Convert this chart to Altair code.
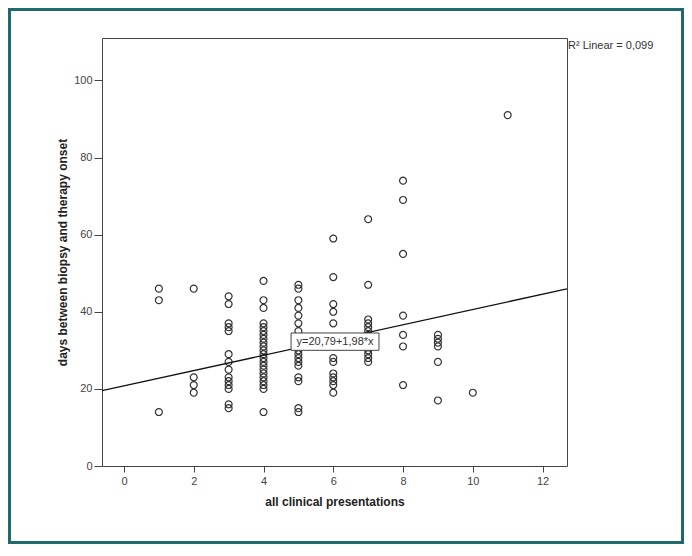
import altair as alt
import pandas as pd

# values
x1 = [46, 43, 14]
x2 = [46, 23, 21, 19]
x3 = [44, 42, 37, 36, 35, 29, 27, 25, 23, 22, 21, 20, 16, 15]
x4 = [48, 43, 41, 37, 36, 35, 34, 33, 32, 31, 30, 29, 28, 27, 26, 25, 24, 23, 22, 21, 20, 14]
x5 = [47, 46, 43, 41, 39, 37, 35, 33, 32, 31, 30, 29, 28, 27, 26, 23, 22, 15, 14]
x6 = [59, 49, 42, 40, 37, 28, 27, 24, 23, 22, 21, 19]
x7 = [64, 47, 38, 37, 36, 35, 34, 33, 32, 31, 30, 29, 28, 27]
x8 = [74, 69, 55, 39, 34, 31, 21]
x9 = [34, 33, 32, 31, 27, 17]
x10 = [19]
x11 = [91]
columns = {1: x1, 2: x2, 3: x3, 4: x4, 5: x5, 6: x6, 7: x7, 8: x8, 9: x9, 10: x10, 11: x11}

intercept = 20.79
slope = 1.98
x_domain = [-0.63, 12.7]
y_domain = [0, 111]
x_ticks = [0, 2, 4, 6, 8, 10, 12]
y_ticks = [0, 20, 40, 60, 80, 100]
eq_label = "y=20,79+1,98*x"
r2_label = "R\u00b2 Linear = 0,099"
x_title = "all clinical presentations"
y_title = "days between biopsy and therapy onset"

rows = [{"x": k, "y": v} for k, vals in columns.items() for v in vals]
df = pd.DataFrame(rows)
line_df = pd.DataFrame({"x": x_domain, "y": [intercept + slope * v for v in x_domain]})

W, H = 465, 428
PL, PT, PR, PB = 94, 30, 117, 78
FONT = "Liberation Sans"

xs = alt.Scale(domain=x_domain, nice=False, zero=False)
ys = alt.Scale(domain=y_domain, nice=False)

xaxis = alt.Axis(values=x_ticks, title=x_title, grid=False, domain=False,
                 tickSize=6, tickColor="#444", labelColor="#444", labelFontSize=11,
                 labelFont=FONT, labelPadding=3, titleFont=FONT, titleFontSize=12,
                 titleFontWeight="bold", titleColor="#222", titlePadding=10)
yaxis = alt.Axis(values=y_ticks, title=y_title, grid=False, domain=False,
                 tickSize=8, tickColor="#444", labelColor="#444", labelFontSize=11,
                 labelFont=FONT, labelPadding=2, titleFont=FONT, titleFontSize=12,
                 titleFontWeight="bold", titleColor="#222", titlePadding=4)

pts = alt.Chart(df).mark_point(shape="circle", filled=False, size=48, stroke="#333",
                               strokeWidth=1.2, opacity=1).encode(
    x=alt.X("x:Q", scale=xs, axis=xaxis),
    y=alt.Y("y:Q", scale=ys, axis=yaxis),
)

fit = alt.Chart(line_df).mark_line(color="#111", strokeWidth=1.4, clip=True).encode(
    x=alt.X("x:Q", scale=xs), y=alt.Y("y:Q", scale=ys))

box_df = pd.DataFrame({"x": [4.79], "x2": [7.31], "y": [30.0], "y2": [34.5], "xc": [6.05], "yc": [32.25], "t": [eq_label]})
box = alt.Chart(box_df).mark_rect(fill="white", stroke="#444", strokeWidth=1).encode(
    x=alt.X("x:Q", scale=xs), x2="x2:Q", y=alt.Y("y:Q", scale=ys), y2="y2:Q")
box_text = alt.Chart(box_df).mark_text(font=FONT, fontSize=11, color="#333").encode(
    x=alt.X("xc:Q", scale=xs), y=alt.Y("yc:Q", scale=ys), text="t:N")

r2 = alt.Chart(pd.DataFrame({"t": [r2_label]})).mark_text(
    font=FONT, fontSize=11, color="#333", align="left", baseline="middle").encode(
    x=alt.value(W + 1), y=alt.value(8), text="t:N")

border = alt.Chart(pd.DataFrame({"a": [0]})).mark_rect(
    fill=None, stroke="#1f6a6a", strokeWidth=3).encode(
    x=alt.value(-PL + 1.5), x2=alt.value(W + PR - 1.5),
    y=alt.value(-PT + 1.5), y2=alt.value(H + PB - 1.5))

chart = alt.layer(border, pts, fit, box, box_text, r2).properties(
    width=W, height=H,
    autosize=alt.AutoSizeParams(type="none"),
    padding={"left": PL, "top": PT, "right": PR, "bottom": PB},
    background="white",
).configure_view(stroke="#444", strokeWidth=1)

chart.save("out.html", embed_options={"renderer": "svg", "actions": False})
